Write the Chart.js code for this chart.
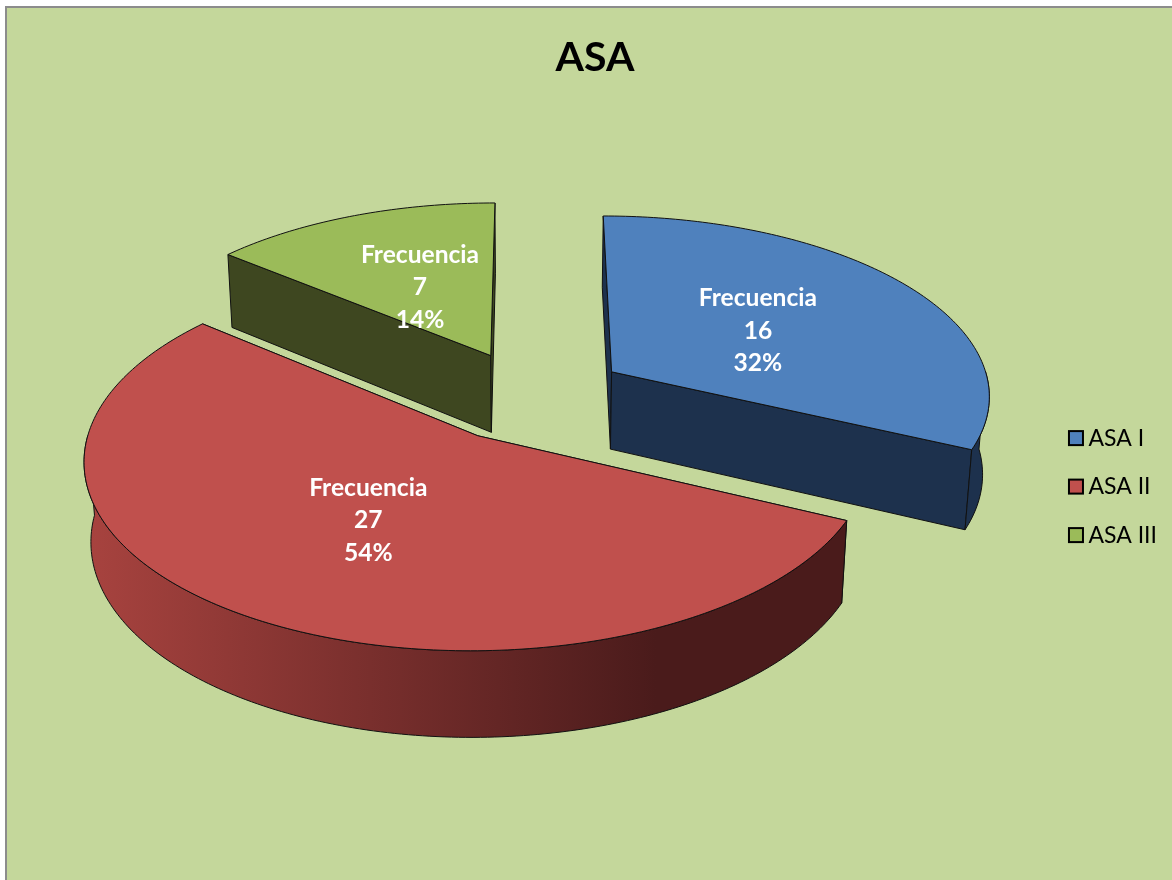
<!DOCTYPE html>
<html>
<head>
<meta charset="utf-8">
<title>ASA</title>
<script src="https://cdn.jsdelivr.net/npm/chart.js@4/dist/chart.umd.min.js"></script>
<style>
  html, body { margin: 0; padding: 0; background: #fff; }
  #panel { position: absolute; left: 5px; top: 6px; width: 1167px; height: 874px; box-sizing: border-box;
           background: #c4d79b; border-left: 2px solid #8c8c8c; border-top: 2px solid #8c8c8c; }
  #wrap { position: absolute; left: 0; top: 0; width: 1172px; height: 880px; }
</style>
</head>
<body>
<div id="panel"></div>
<div id="wrap"><canvas id="myChart" width="1172" height="880"></canvas></div>
<script>
const categories = ['ASA I', 'ASA II', 'ASA III'];
const frecuencia = [16, 27, 7];
const seriesName = 'Frecuencia';
const chartTitle = 'ASA';

const topColors = ['#4f81bd', '#c0504d', '#9bbb59'];
const cutColors = ['#1d314d', '#4d1e1c', '#3e4720'];
const wallLeft = ['#1d314d', '#a8433f', '#5d7035'];
const wallRight = ['#1d314d', '#4a1b1b', '#3e4720'];

// camera for the fake 3D look
const cam = { cx: 531, cy: 396, elev: 28.2 * Math.PI / 180, dist: 2842, depth: 90 };
const labelReach = 0.485;

function project(px, py, pz) {
  const s = Math.sin(cam.elev), c = Math.cos(cam.elev);
  const up = pz * c - py * s;
  const w = pz * s + py * c;
  const p = cam.dist / (cam.dist - w);
  return { x: cam.cx + px * p, y: cam.cy - up * p };
}

function arcPoints(a0, a1, r, ox, oy, z) {
  const pts = [];
  const n = Math.max(2, Math.ceil((a1 - a0) * 60));
  for (let i = 0; i <= n; i++) {
    const a = a0 + (a1 - a0) * i / n;
    pts.push(project(ox + Math.cos(a) * r, oy + Math.sin(a) * r, z));
  }
  return pts;
}

function fillPoly(ctx, pts, fill) {
  ctx.beginPath();
  pts.forEach((p, i) => (i ? ctx.lineTo(p.x, p.y) : ctx.moveTo(p.x, p.y)));
  ctx.closePath();
  ctx.fillStyle = fill;
  ctx.fill();
  ctx.lineWidth = 1;
  ctx.strokeStyle = '#101010';
  ctx.stroke();
}

// draws the pie arcs tilted, using the angles the doughnut controller worked out
const tiltedPie = {
  id: 'tiltedPie',
  beforeDatasetsDraw(chart) {
    const ctx = chart.ctx;
    const arcs = chart.getDatasetMeta(0).data;
    const order = [2, 0, 1];
    ctx.save();
    ctx.lineJoin = 'round';
    order.forEach((i) => {
      const el = arcs[i];
      const { startAngle, endAngle, outerRadius } = el.getProps(['startAngle', 'endAngle', 'outerRadius']);
      const mid = (startAngle + endAngle) / 2;
      const off = el.options.offset;
      const ox = Math.cos(mid) * off;
      const oy = Math.sin(mid) * off;
      const topArc = arcPoints(startAngle, endAngle, outerRadius, ox, oy, 0);
      const lowArc = arcPoints(startAngle, endAngle, outerRadius, ox, oy, -cam.depth);
      const apexTop = project(ox, oy, 0);
      const apexLow = project(ox, oy, -cam.depth);

      // the two cut faces
      fillPoly(ctx, [apexTop, topArc[0], lowArc[0], apexLow], cutColors[i]);
      fillPoly(ctx, [apexTop, topArc[topArc.length - 1], lowArc[lowArc.length - 1], apexLow], cutColors[i]);

      // outer wall, only the part that faces the viewer
      const a0 = Math.max(startAngle, 0);
      const a1 = Math.min(endAngle, Math.PI);
      if (a1 > a0) {
        const wallTop = arcPoints(a0, a1, outerRadius, ox, oy, 0);
        const wallLow = arcPoints(a0, a1, outerRadius, ox, oy, -cam.depth);
        const wall = wallTop.concat(wallLow.reverse());
        const xs = wall.map((p) => p.x);
        const grad = ctx.createLinearGradient(Math.min(...xs), 0, Math.max(...xs), 0);
        grad.addColorStop(0, wallLeft[i]);
        grad.addColorStop(0.75, wallRight[i]);
        grad.addColorStop(1, wallRight[i]);
        fillPoly(ctx, wall, grad);
      }

      // top face
      fillPoly(ctx, [apexTop].concat(topArc), topColors[i]);
    });

    // data labels: series name, value, percent
    const total = frecuencia.reduce((a, b) => a + b, 0);
    ctx.fillStyle = '#ffffff';
    ctx.font = 'bold 24.6px Lato';
    ctx.textAlign = 'center';
    ctx.textBaseline = 'middle';
    arcs.forEach((el, i) => {
      const { startAngle, endAngle, outerRadius } = el.getProps(['startAngle', 'endAngle', 'outerRadius']);
      const mid = (startAngle + endAngle) / 2;
      const off = el.options.offset + outerRadius * labelReach;
      const p = project(Math.cos(mid) * off, Math.sin(mid) * off, 0);
      const lines = [seriesName, String(frecuencia[i]), Math.round(frecuencia[i] / total * 100) + '%'];
      lines.forEach((t, k) => ctx.fillText(t, p.x, p.y + 3 + (k - 1) * 32.5));
    });
    ctx.restore();
    return false;
  },
  // legend keys sit closer to the text than the library puts them
  afterDraw(chart) {
    const ctx = chart.ctx;
    ctx.save();
    chart.legend.legendHitBoxes.forEach((box, i) => {
      const size = 14;
      const x = box.left - 8;
      const y = box.top + (box.height - size) / 2;
      ctx.fillStyle = topColors[i];
      ctx.fillRect(x, y, size, size);
      ctx.strokeStyle = '#000000';
      ctx.lineWidth = 2;
      ctx.strokeRect(x, y, size, size);
    });
    ctx.restore();
  }
};

const ctx = document.getElementById('myChart');

new Chart(ctx, {
  type: 'pie',
  plugins: [tiltedPie],
  data: {
    labels: categories,
    datasets: [
      {
        label: seriesName,
        data: frecuencia,
        backgroundColor: topColors,
        offset: 97,
        radius: 380,
      },
    ],
  },
  options: {
    responsive: false,
    animation: false,
    layout: { padding: { left: 23, right: 5 } },
    plugins: {
      tooltip: { enabled: false },
      title: {
        display: true,
        text: chartTitle,
        color: '#000000',
        font: { family: 'Lato', size: 41, weight: 'bold' },
        padding: { top: 33, bottom: 11 },
      },
      legend: {
        position: 'right',
        fullSize: false,
        labels: {
          color: '#1a1a1a',
          font: { family: 'Lato', size: 23 },
          boxWidth: 0,
          padding: 25.5,
          generateLabels: () => categories.map((name, i) => ({
            text: name,
            fillStyle: topColors[i],
            strokeStyle: '#000000',
            lineWidth: 2,
            index: i,
          })),
        },
      },
    },
  },
});
</script>
</body>
</html>
